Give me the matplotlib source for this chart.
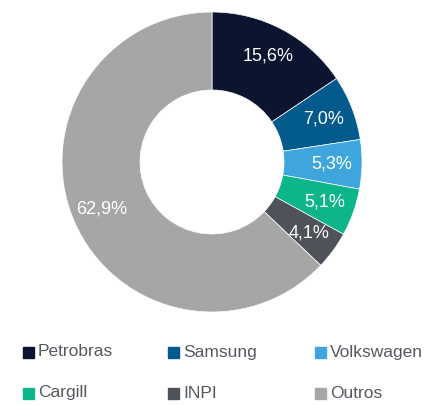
import matplotlib.pyplot as plt
from matplotlib.patches import Rectangle

plt.rcParams['font.family'] = ['Liberation Sans', 'DejaVu Sans']

empresas = ['Petrobras', 'Samsung', 'Volkswagen', 'Cargill', 'INPI', 'Outros']
valores = [15.6, 7.0, 5.3, 5.1, 4.1, 62.9]
cores = ['#0b1530', '#035a8c', '#3ea6dc', '#0db58b', '#4d5358', '#a6a6a6']

W, H = 426, 405
fig = plt.figure(figsize=(W / 100, H / 100), dpi=100)

# rosca centrada em (212, 162) px, raio 150
ax = fig.add_axes([62 / W, (H - 312) / H, 300 / W, 300 / H])
wedges, texts, autotexts = ax.pie(
    valores, colors=cores, startangle=90, counterclock=False,
    autopct=lambda p: f'{p:.1f}%'.replace('.', ','), pctdistance=0.8,
    wedgeprops=dict(width=0.52, linewidth=0.5, edgecolor='white'),
    textprops=dict(color='white', fontsize=13))
ax.set_xlim(-1, 1)
ax.set_ylim(-1, 1)
ax.set_aspect('equal')
ax.axis('off')

# legenda manual em 2 linhas x 3 colunas
xs = [23, 168, 315]
ys = [352, 393]
for i, (nome, cor) in enumerate(zip(empresas, cores)):
    x = xs[i % 3]
    y = ys[i // 3]
    fig.add_artist(Rectangle((x / W, (H - y - 5.5) / H), 11 / W, 11 / H,
                             transform=fig.transFigure, color=cor))
    fig.text((x + 15) / W, (H - y) / H, nome, fontsize=12.5,
             color='#555a60', va='center', ha='left')

plt.savefig('out.png', dpi=100)
